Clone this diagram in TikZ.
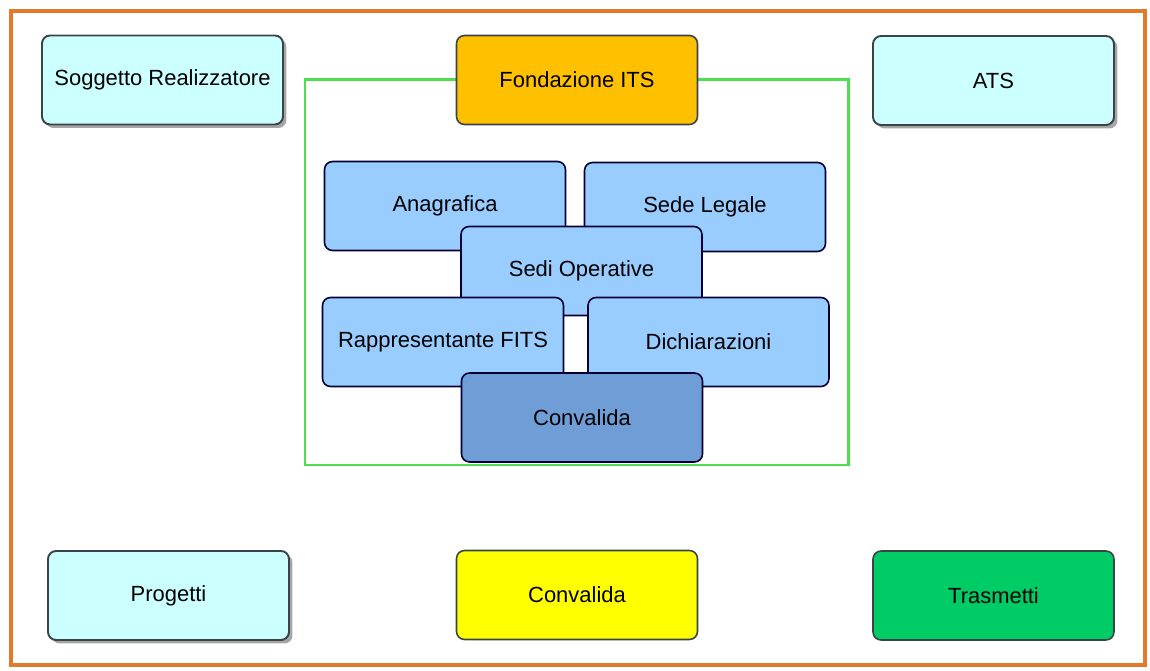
\documentclass[tikz,border=0pt]{standalone}
\usepackage{fontspec}
\setmainfont{Liberation Sans}
\usetikzlibrary{shadows}

\definecolor{frameorange}{HTML}{E27A2C}
\definecolor{framegreen}{HTML}{4CE04C}
\definecolor{lightcyan}{HTML}{CCFFFF}
\definecolor{itsorange}{HTML}{FFC000}
\definecolor{paleblue}{HTML}{99CCFF}
\definecolor{midblue}{HTML}{6F9DD6}
\definecolor{okyellow}{HTML}{FFFF00}
\definecolor{sendgreen}{HTML}{00CC66}
\definecolor{boxline}{HTML}{3A4448}

\tikzset{
  card/.style={draw=boxline, line width=0.9pt, rounded corners=0.16cm,
    minimum width=4.82cm, minimum height=1.78cm, inner sep=0pt,
    font=\fontsize{12.5}{15}\selectfont},
  shadowcard/.style={card, fill=lightcyan, line width=1.1pt,
    drop shadow={shadow xshift=0.07cm, shadow yshift=-0.07cm, fill=gray, opacity=0.7}},
  part/.style={card, fill=paleblue, draw=black!80!blue}
}

\begin{document}
\begin{tikzpicture}[x=0.02cm,y=-0.02cm]
\useasboundingbox (0,0) rectangle (1150,671);
\draw[frameorange, line width=2.3pt] (11,11) rectangle (1145,665);
% Fondazione ITS frame
\draw[framegreen, line width=1.7pt] (305,80) rectangle (848,465);
% top row
\node[shadowcard] (soggetto) at (162.5,80) {Soggetto Realizzatore};
\node[card, fill=itsorange] (fondazione) at (577,80) {Fondazione ITS};
\node[shadowcard] (ats) at (993.5,80.5) {ATS};
% sections
\node[part] (anagrafica) at (445,206) {Anagrafica};
\node[part] (sedelegale) at (705,207) {Sede Legale};
\node[part] (sedioperative) at (581.5,271) {Sedi Operative};
\node[part] (rappresentante) at (443,342) {Rappresentante FITS};
\node[part] (dichiarazioni) at (708.5,342) {Dichiarazioni};
\node[part, fill=midblue] (convalidaits) at (582,417.5) {Convalida};
% bottom row
\node[shadowcard] (progetti) at (168.5,595.5) {Progetti};
\node[card, fill=okyellow] (convalida) at (577,595) {Convalida};
\node[card, fill=sendgreen] (trasmetti) at (993.5,595.5) {Trasmetti};
\end{tikzpicture}
\end{document}
